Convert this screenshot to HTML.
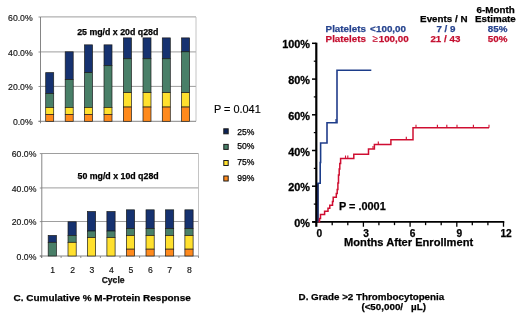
<!DOCTYPE html>
<html><head><meta charset="utf-8"><title>chart</title>
<style>
html,body{margin:0;padding:0;background:#fff;}
body{width:520px;height:315px;overflow:hidden;}
svg{display:block;font-family:"Liberation Sans",sans-serif;}
.b{font-weight:bold;}
</style></head><body>
<svg width="520" height="315" viewBox="0 0 520 315">
<defs><filter id="bl" x="-5%" y="-5%" width="110%" height="110%"><feGaussianBlur stdDeviation="0.35"/></filter></defs>
<rect width="520" height="315" fill="#ffffff"/>
<g filter="url(#bl)">

<line x1="40.5" y1="16.9" x2="196" y2="16.9" stroke="#858585" stroke-width="0.8"/>
<line x1="40.5" y1="51.9" x2="196" y2="51.9" stroke="#858585" stroke-width="0.8"/>
<line x1="40.5" y1="86.4" x2="196" y2="86.4" stroke="#858585" stroke-width="0.8"/>
<line x1="196" y1="17" x2="196" y2="121.3" stroke="#b5b5b5" stroke-width="0.8"/>
<line x1="40.5" y1="17" x2="40.5" y2="123.3" stroke="#777" stroke-width="0.9"/>
<line x1="38.5" y1="121.3" x2="196" y2="121.3" stroke="#777" stroke-width="0.9"/>
<line x1="38.5" y1="17" x2="40.5" y2="17" stroke="#777" stroke-width="0.8"/>
<text x="32.7" y="20.5" font-size="8.7" text-anchor="end" fill="#111" stroke="#111" stroke-width="0.15">60.0%</text>
<line x1="38.5" y1="52" x2="40.5" y2="52" stroke="#777" stroke-width="0.8"/>
<text x="32.7" y="55.5" font-size="8.7" text-anchor="end" fill="#111" stroke="#111" stroke-width="0.15">40.0%</text>
<line x1="38.5" y1="86.5" x2="40.5" y2="86.5" stroke="#777" stroke-width="0.8"/>
<text x="32.7" y="90.0" font-size="8.7" text-anchor="end" fill="#111" stroke="#111" stroke-width="0.15">20.0%</text>
<line x1="38.5" y1="121.3" x2="40.5" y2="121.3" stroke="#777" stroke-width="0.8"/>
<text x="32.7" y="124.8" font-size="8.7" text-anchor="end" fill="#111" stroke="#111" stroke-width="0.15">0.0%</text>
<rect x="45.7" y="72.65" width="8" height="20.85" fill="#14326f" stroke="#1c1c1c" stroke-width="0.7"/>
<rect x="45.7" y="93.5" width="8" height="13.90" fill="#487f68" stroke="#1c1c1c" stroke-width="0.7"/>
<rect x="45.7" y="107.4" width="8" height="6.95" fill="#ffe02e" stroke="#1c1c1c" stroke-width="0.7"/>
<rect x="45.7" y="114.35" width="8" height="6.95" fill="#ff8a1c" stroke="#1c1c1c" stroke-width="0.7"/>
<rect x="65.2" y="51.8" width="8" height="27.80" fill="#14326f" stroke="#1c1c1c" stroke-width="0.7"/>
<rect x="65.2" y="79.6" width="8" height="27.80" fill="#487f68" stroke="#1c1c1c" stroke-width="0.7"/>
<rect x="65.2" y="107.4" width="8" height="6.95" fill="#ffe02e" stroke="#1c1c1c" stroke-width="0.7"/>
<rect x="65.2" y="114.35" width="8" height="6.95" fill="#ff8a1c" stroke="#1c1c1c" stroke-width="0.7"/>
<rect x="84.5" y="44.85" width="8" height="27.80" fill="#14326f" stroke="#1c1c1c" stroke-width="0.7"/>
<rect x="84.5" y="72.65" width="8" height="34.75" fill="#487f68" stroke="#1c1c1c" stroke-width="0.7"/>
<rect x="84.5" y="107.4" width="8" height="6.95" fill="#ffe02e" stroke="#1c1c1c" stroke-width="0.7"/>
<rect x="84.5" y="114.35" width="8" height="6.95" fill="#ff8a1c" stroke="#1c1c1c" stroke-width="0.7"/>
<rect x="104" y="44.85" width="8" height="20.85" fill="#14326f" stroke="#1c1c1c" stroke-width="0.7"/>
<rect x="104" y="65.7" width="8" height="41.70" fill="#487f68" stroke="#1c1c1c" stroke-width="0.7"/>
<rect x="104" y="107.4" width="8" height="6.95" fill="#ffe02e" stroke="#1c1c1c" stroke-width="0.7"/>
<rect x="104" y="114.35" width="8" height="6.95" fill="#ff8a1c" stroke="#1c1c1c" stroke-width="0.7"/>
<rect x="123.4" y="37.9" width="8" height="20.85" fill="#14326f" stroke="#1c1c1c" stroke-width="0.7"/>
<rect x="123.4" y="58.75" width="8" height="33.88" fill="#487f68" stroke="#1c1c1c" stroke-width="0.7"/>
<rect x="123.4" y="92.63" width="8" height="14.42" fill="#ffe02e" stroke="#1c1c1c" stroke-width="0.7"/>
<rect x="123.4" y="107.05" width="8" height="14.25" fill="#ff8a1c" stroke="#1c1c1c" stroke-width="0.7"/>
<rect x="143" y="37.9" width="8" height="20.85" fill="#14326f" stroke="#1c1c1c" stroke-width="0.7"/>
<rect x="143" y="58.75" width="8" height="33.88" fill="#487f68" stroke="#1c1c1c" stroke-width="0.7"/>
<rect x="143" y="92.63" width="8" height="14.42" fill="#ffe02e" stroke="#1c1c1c" stroke-width="0.7"/>
<rect x="143" y="107.05" width="8" height="14.25" fill="#ff8a1c" stroke="#1c1c1c" stroke-width="0.7"/>
<rect x="162.3" y="37.9" width="8" height="20.85" fill="#14326f" stroke="#1c1c1c" stroke-width="0.7"/>
<rect x="162.3" y="58.75" width="8" height="33.88" fill="#487f68" stroke="#1c1c1c" stroke-width="0.7"/>
<rect x="162.3" y="92.63" width="8" height="14.42" fill="#ffe02e" stroke="#1c1c1c" stroke-width="0.7"/>
<rect x="162.3" y="107.05" width="8" height="14.25" fill="#ff8a1c" stroke="#1c1c1c" stroke-width="0.7"/>
<rect x="181.6" y="37.9" width="8" height="13.90" fill="#14326f" stroke="#1c1c1c" stroke-width="0.7"/>
<rect x="181.6" y="51.8" width="8" height="40.83" fill="#487f68" stroke="#1c1c1c" stroke-width="0.7"/>
<rect x="181.6" y="92.63" width="8" height="14.42" fill="#ffe02e" stroke="#1c1c1c" stroke-width="0.7"/>
<rect x="181.6" y="107.05" width="8" height="14.25" fill="#ff8a1c" stroke="#1c1c1c" stroke-width="0.7"/>
<text x="77.2" y="35.4" font-size="8.8" class="b" fill="#000" stroke="#000" stroke-width="0.25">25 mg/d x 20d q28d</text>
<line x1="41.8" y1="153.5" x2="198.5" y2="153.5" stroke="#858585" stroke-width="0.8"/>
<line x1="41.8" y1="187.9" x2="198.5" y2="187.9" stroke="#858585" stroke-width="0.8"/>
<line x1="41.8" y1="221.5" x2="198.5" y2="221.5" stroke="#858585" stroke-width="0.8"/>
<line x1="198.5" y1="153.6" x2="198.5" y2="256" stroke="#b5b5b5" stroke-width="0.8"/>
<line x1="41.8" y1="153.6" x2="41.8" y2="258" stroke="#777" stroke-width="0.9"/>
<line x1="39.8" y1="256" x2="198.5" y2="256" stroke="#777" stroke-width="0.9"/>
<line x1="39.8" y1="153.6" x2="41.8" y2="153.6" stroke="#777" stroke-width="0.8"/>
<text x="36.4" y="157.1" font-size="8.7" text-anchor="end" fill="#111" stroke="#111" stroke-width="0.15">60.0%</text>
<line x1="39.8" y1="188" x2="41.8" y2="188" stroke="#777" stroke-width="0.8"/>
<text x="36.4" y="191.5" font-size="8.7" text-anchor="end" fill="#111" stroke="#111" stroke-width="0.15">40.0%</text>
<line x1="39.8" y1="221.6" x2="41.8" y2="221.6" stroke="#777" stroke-width="0.8"/>
<text x="36.4" y="225.1" font-size="8.7" text-anchor="end" fill="#111" stroke="#111" stroke-width="0.15">20.0%</text>
<line x1="39.8" y1="256" x2="41.8" y2="256" stroke="#777" stroke-width="0.8"/>
<text x="36.4" y="259.5" font-size="8.7" text-anchor="end" fill="#111" stroke="#111" stroke-width="0.15">0.0%</text>
<rect x="48.2" y="235.48" width="8.2" height="6.84" fill="#14326f" stroke="#1c1c1c" stroke-width="0.7"/>
<rect x="48.2" y="242.32" width="8.2" height="13.68" fill="#487f68" stroke="#1c1c1c" stroke-width="0.7"/>
<rect x="68" y="221.8" width="8.2" height="13.68" fill="#14326f" stroke="#1c1c1c" stroke-width="0.7"/>
<rect x="68" y="235.48" width="8.2" height="6.84" fill="#487f68" stroke="#1c1c1c" stroke-width="0.7"/>
<rect x="68" y="242.32" width="8.2" height="13.68" fill="#ffe02e" stroke="#1c1c1c" stroke-width="0.7"/>
<rect x="87.4" y="211.54" width="8.2" height="19.49" fill="#14326f" stroke="#1c1c1c" stroke-width="0.7"/>
<rect x="87.4" y="231.03" width="8.2" height="6.50" fill="#487f68" stroke="#1c1c1c" stroke-width="0.7"/>
<rect x="87.4" y="237.53" width="8.2" height="18.47" fill="#ffe02e" stroke="#1c1c1c" stroke-width="0.7"/>
<rect x="106.9" y="211.54" width="8.2" height="19.49" fill="#14326f" stroke="#1c1c1c" stroke-width="0.7"/>
<rect x="106.9" y="231.03" width="8.2" height="6.50" fill="#487f68" stroke="#1c1c1c" stroke-width="0.7"/>
<rect x="106.9" y="237.53" width="8.2" height="18.47" fill="#ffe02e" stroke="#1c1c1c" stroke-width="0.7"/>
<rect x="126.4" y="209.83" width="8.2" height="18.81" fill="#14326f" stroke="#1c1c1c" stroke-width="0.7"/>
<rect x="126.4" y="228.64" width="8.2" height="6.84" fill="#487f68" stroke="#1c1c1c" stroke-width="0.7"/>
<rect x="126.4" y="235.48" width="8.2" height="13.68" fill="#ffe02e" stroke="#1c1c1c" stroke-width="0.7"/>
<rect x="126.4" y="249.16" width="8.2" height="6.84" fill="#ff8a1c" stroke="#1c1c1c" stroke-width="0.7"/>
<rect x="146" y="209.83" width="8.2" height="18.81" fill="#14326f" stroke="#1c1c1c" stroke-width="0.7"/>
<rect x="146" y="228.64" width="8.2" height="6.84" fill="#487f68" stroke="#1c1c1c" stroke-width="0.7"/>
<rect x="146" y="235.48" width="8.2" height="13.68" fill="#ffe02e" stroke="#1c1c1c" stroke-width="0.7"/>
<rect x="146" y="249.16" width="8.2" height="6.84" fill="#ff8a1c" stroke="#1c1c1c" stroke-width="0.7"/>
<rect x="165.5" y="209.83" width="8.2" height="18.81" fill="#14326f" stroke="#1c1c1c" stroke-width="0.7"/>
<rect x="165.5" y="228.64" width="8.2" height="6.84" fill="#487f68" stroke="#1c1c1c" stroke-width="0.7"/>
<rect x="165.5" y="235.48" width="8.2" height="13.68" fill="#ffe02e" stroke="#1c1c1c" stroke-width="0.7"/>
<rect x="165.5" y="249.16" width="8.2" height="6.84" fill="#ff8a1c" stroke="#1c1c1c" stroke-width="0.7"/>
<rect x="184.9" y="209.83" width="8.2" height="18.81" fill="#14326f" stroke="#1c1c1c" stroke-width="0.7"/>
<rect x="184.9" y="228.64" width="8.2" height="6.84" fill="#487f68" stroke="#1c1c1c" stroke-width="0.7"/>
<rect x="184.9" y="235.48" width="8.2" height="13.68" fill="#ffe02e" stroke="#1c1c1c" stroke-width="0.7"/>
<rect x="184.9" y="249.16" width="8.2" height="6.84" fill="#ff8a1c" stroke="#1c1c1c" stroke-width="0.7"/>
<text x="77.5" y="178.8" font-size="8.8" class="b" fill="#000" stroke="#000" stroke-width="0.25">50 mg/d x 10d q28d</text>
<line x1="41.5" y1="256" x2="41.5" y2="258" stroke="#777" stroke-width="0.8"/>
<line x1="61.1" y1="256" x2="61.1" y2="258" stroke="#777" stroke-width="0.8"/>
<line x1="80.8" y1="256" x2="80.8" y2="258" stroke="#777" stroke-width="0.8"/>
<line x1="100.4" y1="256" x2="100.4" y2="258" stroke="#777" stroke-width="0.8"/>
<line x1="120.0" y1="256" x2="120.0" y2="258" stroke="#777" stroke-width="0.8"/>
<line x1="139.6" y1="256" x2="139.6" y2="258" stroke="#777" stroke-width="0.8"/>
<line x1="159.2" y1="256" x2="159.2" y2="258" stroke="#777" stroke-width="0.8"/>
<line x1="178.9" y1="256" x2="178.9" y2="258" stroke="#777" stroke-width="0.8"/>
<line x1="198.5" y1="256" x2="198.5" y2="258" stroke="#777" stroke-width="0.8"/>
<text x="52.6" y="272.8" font-size="8.6" text-anchor="middle" fill="#111" stroke="#111" stroke-width="0.15">1</text>
<text x="72.6" y="272.8" font-size="8.6" text-anchor="middle" fill="#111" stroke="#111" stroke-width="0.15">2</text>
<text x="92" y="272.8" font-size="8.6" text-anchor="middle" fill="#111" stroke="#111" stroke-width="0.15">3</text>
<text x="111.5" y="272.8" font-size="8.6" text-anchor="middle" fill="#111" stroke="#111" stroke-width="0.15">4</text>
<text x="130.8" y="272.8" font-size="8.6" text-anchor="middle" fill="#111" stroke="#111" stroke-width="0.15">5</text>
<text x="150.3" y="272.8" font-size="8.6" text-anchor="middle" fill="#111" stroke="#111" stroke-width="0.15">6</text>
<text x="169.7" y="272.8" font-size="8.6" text-anchor="middle" fill="#111" stroke="#111" stroke-width="0.15">7</text>
<text x="189.3" y="272.8" font-size="8.6" text-anchor="middle" fill="#111" stroke="#111" stroke-width="0.15">8</text>
<text x="113.1" y="282.8" font-size="8.6" class="b" text-anchor="middle" fill="#111" stroke="#111" stroke-width="0.25">Cycle</text>
<text x="13.5" y="301.2" font-size="9.97" class="b" fill="#000" stroke="#000" stroke-width="0.25">C. Cumulative % M-Protein Response</text>
<text x="214" y="112.5" font-size="10.9" fill="#000" stroke="#000" stroke-width="0.15">P = 0.041</text>
<rect x="223.8" y="128.8" width="4.4" height="5" fill="#0f2458" stroke="#1a1a1a" stroke-width="1"/>
<text x="237.3" y="135.4" font-size="8.6" fill="#000" stroke="#000" stroke-width="0.25">25%</text>
<rect x="223.8" y="144.4" width="4.4" height="5" fill="#487f68" stroke="#1a1a1a" stroke-width="1"/>
<text x="237.3" y="149.3" font-size="8.6" fill="#000" stroke="#000" stroke-width="0.25">50%</text>
<rect x="223.8" y="160.5" width="4.4" height="5" fill="#ffe02e" stroke="#1a1a1a" stroke-width="1"/>
<text x="237.3" y="165.4" font-size="8.6" fill="#000" stroke="#000" stroke-width="0.25">75%</text>
<rect x="223.8" y="176.0" width="4.4" height="5" fill="#ff8a1c" stroke="#1a1a1a" stroke-width="1"/>
<text x="237.3" y="180.9" font-size="8.6" fill="#000" stroke="#000" stroke-width="0.25">99%</text>
</g>
<g filter="url(#bl)">
<line x1="316.3" y1="42.7" x2="316.3" y2="226.8" stroke="#000" stroke-width="2.2"/>
<line x1="312.3" y1="221.95" x2="504.3" y2="221.95" stroke="#000" stroke-width="1.7"/>
<line x1="312.0" y1="221.9" x2="316.3" y2="221.9" stroke="#000" stroke-width="1.5"/>
<text x="310" y="227.0" font-size="10.9" class="b" text-anchor="end" fill="#000" stroke="#000" stroke-width="0.3">0%</text>
<line x1="313.8" y1="204.1" x2="316.3" y2="204.1" stroke="#000" stroke-width="1.2"/>
<line x1="312.0" y1="186.2" x2="316.3" y2="186.2" stroke="#000" stroke-width="1.5"/>
<text x="310" y="191.3" font-size="10.9" class="b" text-anchor="end" fill="#000" stroke="#000" stroke-width="0.3">20%</text>
<line x1="313.8" y1="168.4" x2="316.3" y2="168.4" stroke="#000" stroke-width="1.2"/>
<line x1="312.0" y1="150.5" x2="316.3" y2="150.5" stroke="#000" stroke-width="1.5"/>
<text x="310" y="155.6" font-size="10.9" class="b" text-anchor="end" fill="#000" stroke="#000" stroke-width="0.3">40%</text>
<line x1="313.8" y1="132.6" x2="316.3" y2="132.6" stroke="#000" stroke-width="1.2"/>
<line x1="312.0" y1="114.8" x2="316.3" y2="114.8" stroke="#000" stroke-width="1.5"/>
<text x="310" y="119.9" font-size="10.9" class="b" text-anchor="end" fill="#000" stroke="#000" stroke-width="0.3">60%</text>
<line x1="313.8" y1="96.9" x2="316.3" y2="96.9" stroke="#000" stroke-width="1.2"/>
<line x1="312.0" y1="79.1" x2="316.3" y2="79.1" stroke="#000" stroke-width="1.5"/>
<text x="310" y="84.2" font-size="10.9" class="b" text-anchor="end" fill="#000" stroke="#000" stroke-width="0.3">80%</text>
<line x1="313.8" y1="61.2" x2="316.3" y2="61.2" stroke="#000" stroke-width="1.2"/>
<line x1="312.0" y1="43.3" x2="316.3" y2="43.3" stroke="#000" stroke-width="1.5"/>
<text x="310" y="48.4" font-size="10.9" class="b" text-anchor="end" fill="#000" stroke="#000" stroke-width="0.3">100%</text>
<line x1="332.2" y1="221.95" x2="332.2" y2="225.14999999999998" stroke="#000" stroke-width="1.3"/>
<line x1="347.8" y1="221.95" x2="347.8" y2="225.14999999999998" stroke="#000" stroke-width="1.3"/>
<line x1="363.4" y1="221.95" x2="363.4" y2="226.75" stroke="#000" stroke-width="1.3"/>
<line x1="378.9" y1="221.95" x2="378.9" y2="225.14999999999998" stroke="#000" stroke-width="1.3"/>
<line x1="394.5" y1="221.95" x2="394.5" y2="225.14999999999998" stroke="#000" stroke-width="1.3"/>
<line x1="410.1" y1="221.95" x2="410.1" y2="226.75" stroke="#000" stroke-width="1.3"/>
<line x1="425.6" y1="221.95" x2="425.6" y2="225.14999999999998" stroke="#000" stroke-width="1.3"/>
<line x1="441.2" y1="221.95" x2="441.2" y2="225.14999999999998" stroke="#000" stroke-width="1.3"/>
<line x1="456.8" y1="221.95" x2="456.8" y2="226.75" stroke="#000" stroke-width="1.3"/>
<line x1="472.3" y1="221.95" x2="472.3" y2="225.14999999999998" stroke="#000" stroke-width="1.3"/>
<line x1="487.9" y1="221.95" x2="487.9" y2="225.14999999999998" stroke="#000" stroke-width="1.3"/>
<line x1="503.5" y1="221.95" x2="503.5" y2="226.75" stroke="#000" stroke-width="1.3"/>
<text x="319.3" y="237.3" font-size="10.2" class="b" text-anchor="middle" fill="#000" stroke="#000" stroke-width="0.25">0</text>
<text x="366.0" y="237.3" font-size="10.2" class="b" text-anchor="middle" fill="#000" stroke="#000" stroke-width="0.25">3</text>
<text x="412.7" y="237.3" font-size="10.2" class="b" text-anchor="middle" fill="#000" stroke="#000" stroke-width="0.25">6</text>
<text x="459.4" y="237.3" font-size="10.2" class="b" text-anchor="middle" fill="#000" stroke="#000" stroke-width="0.25">9</text>
<text x="506.1" y="237.3" font-size="10.2" class="b" text-anchor="middle" fill="#000" stroke="#000" stroke-width="0.25">12</text>
<text x="344.1" y="246.1" font-size="11.1" class="b" fill="#000" stroke="#000" stroke-width="0.25">Months After Enrollment</text>
<g transform="translate(0,0.5)">
<polyline fill="none" stroke="#1f3c8a" stroke-width="1.6" points="317.9,221.5 317.9,182.8 320.2,182.8 320.2,162 320.6,162 320.6,142.5 327,142.5 327,122.3 337,122.3 337,69.8 371.3,69.8"/>
<line x1="336" y1="118.5" x2="336" y2="122" stroke="#1f3c8a" stroke-width="1.2"/>
<line x1="317.8" y1="183" x2="317.8" y2="221.5" stroke="#16244f" stroke-width="1.5"/>
<polyline fill="none" stroke="#cf1030" stroke-width="1.5" points="318.5,221.2 319.5,221.2 319.5,218.0 320.5,218.0 320.5,214.1 324.6,214.1 324.6,210.7 328,210.7 328,207.8 329.8,207.8 329.8,204.8 332.5,204.8 332.5,201.0 333.2,201.0 333.2,196.8 336.3,196.8 336.3,193.0 337.2,193.0 337.2,189.0 337.9,189.0 337.9,182.5 338.5,182.5 338.5,174.5 339.2,174.5 339.2,168.5 339.8,168.5 339.8,163.0 340.6,163.0 340.6,158 353.8,158 353.8,153.8 368.5,153.8 368.5,148.6 374.4,148.6 374.4,143.9 390.9,143.9 390.9,139.2 413,139.2 413,127.2 489,127.2"/>
<line x1="345.5" y1="155" x2="345.5" y2="158" stroke="#cf1030" stroke-width="1.1"/>
<line x1="347.8" y1="155" x2="347.8" y2="158" stroke="#cf1030" stroke-width="1.1"/>
<line x1="373" y1="145.6" x2="373" y2="148.6" stroke="#cf1030" stroke-width="1.1"/>
<line x1="378.3" y1="140.9" x2="378.3" y2="143.9" stroke="#cf1030" stroke-width="1.1"/>
<line x1="406.3" y1="136.2" x2="406.3" y2="139.2" stroke="#cf1030" stroke-width="1.1"/>
<line x1="416" y1="124.2" x2="416" y2="127.2" stroke="#cf1030" stroke-width="1.1"/>
<line x1="437.4" y1="124.2" x2="437.4" y2="127.2" stroke="#cf1030" stroke-width="1.1"/>
<line x1="446.8" y1="124.2" x2="446.8" y2="127.2" stroke="#cf1030" stroke-width="1.1"/>
<line x1="457" y1="124.2" x2="457" y2="127.2" stroke="#cf1030" stroke-width="1.1"/>
<line x1="473.4" y1="124.2" x2="473.4" y2="127.2" stroke="#cf1030" stroke-width="1.1"/>
<line x1="489" y1="124.2" x2="489" y2="127.2" stroke="#cf1030" stroke-width="1.1"/>
</g>
<text x="339" y="210.3" font-size="10.9" class="b" fill="#000" stroke="#000" stroke-width="0.25">P = .0001</text>
<text x="325.6" y="31.9" font-size="9.8" class="b" fill="#27448f" stroke="#27448f" stroke-width="0.25">Platelets</text>
<text x="370" y="31.9" font-size="9.8" class="b" fill="#27448f" stroke="#27448f" stroke-width="0.25">&lt;</text>
<text x="376" y="31.9" font-size="9.8" class="b" fill="#27448f" stroke="#27448f" stroke-width="0.25">100,00</text>
<text x="325.6" y="42.1" font-size="9.8" class="b" fill="#c41230" stroke="#c41230" stroke-width="0.25">Platelets</text>
<text x="372.6" y="42.1" font-size="9.8" fill="#c41230" stroke="#c41230" stroke-width="0.15">≥</text>
<text x="378.7" y="42.1" font-size="9.8" class="b" fill="#c41230" stroke="#c41230" stroke-width="0.25">100,00</text>
<text x="443.8" y="22.2" font-size="9.8" class="b" text-anchor="middle" fill="#000" stroke="#000" stroke-width="0.25">Events / N</text>
<text x="495.6" y="12.5" font-size="9.8" class="b" text-anchor="middle" fill="#000" stroke="#000" stroke-width="0.25">6-Month</text>
<text x="495.4" y="22.2" font-size="9.8" class="b" text-anchor="middle" fill="#000" stroke="#000" stroke-width="0.25">Estimate</text>
<text x="446" y="31.9" font-size="9.8" class="b" text-anchor="middle" fill="#27448f" stroke="#27448f" stroke-width="0.25">7 / 9</text>
<text x="445.4" y="42.1" font-size="9.8" class="b" text-anchor="middle" fill="#c41230" stroke="#c41230" stroke-width="0.25">21 / 43</text>
<text x="497.6" y="31.9" font-size="9.8" class="b" text-anchor="middle" fill="#27448f" stroke="#27448f" stroke-width="0.25">85%</text>
<text x="497.6" y="42.1" font-size="9.8" class="b" text-anchor="middle" fill="#c41230" stroke="#c41230" stroke-width="0.25">50%</text>
<text x="298.6" y="300.4" font-size="9.8" class="b" fill="#000" stroke="#000" stroke-width="0.25">D. Grade &gt;2 Thrombocytopenia</text>
<text x="361.4" y="310.3" font-size="9.8" class="b" fill="#000" stroke="#000" stroke-width="0.25">(&lt;50,000/</text>
<text x="411" y="310.3" font-size="9.8" class="b" fill="#000" stroke="#000" stroke-width="0.25">µL)</text>
</g>
</svg></body></html>
